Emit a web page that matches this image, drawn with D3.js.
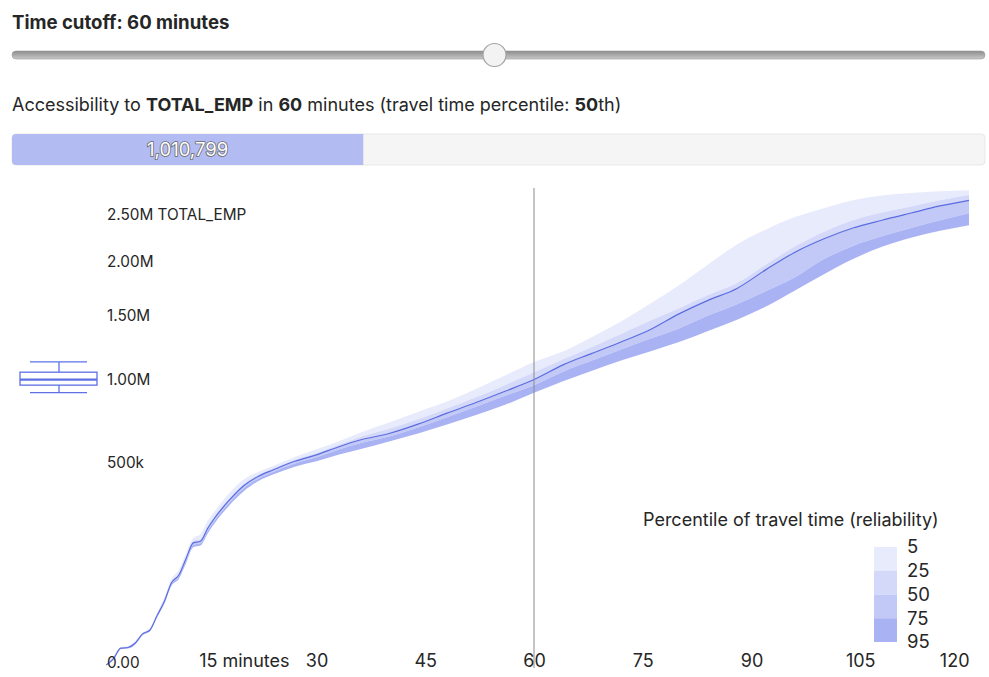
<!DOCTYPE html>
<html><head><meta charset="utf-8">
<script src="https://cdn.jsdelivr.net/npm/d3@7"></script>
<style>
html,body{margin:0;padding:0;background:#fff;}
svg text{font-family:Inter,"Noto Sans",sans-serif;}
</style></head>
<body><svg id="c" width="989" height="677"></svg>
<script>
// ---------- data (jobs, thousands) ----------
const minutes = [1,2,3,4,5,6,7,8,9,10,11,12,13,14,15,16,18,20,22,24,27,30,33,36,40,44,48,52,56,60,64,68,72,76,80,84,88,92,96,100,104,108,112,116,120];
const p5k  = [0,1,4,4.5,7,13,17,33,56,92,112,155,200,212,258,295,368,428,464,492,537,578,620,670,730,795,862,945,1040,1140,1220,1335,1465,1620,1790,1990,2195,2355,2490,2590,2680,2735,2765,2785,2797];
const p25k = [0,0.6,3.6,4,6.4,12.4,15.8,31,52,87,104,145,191,197,240,278,346,408,450,480,523,558,600,645,692,750,816,890,972,1064,1160,1255,1360,1470,1580,1700,1810,1990,2175,2330,2455,2540,2610,2680,2740];
const p50k = [0,0.5,3.5,3.8,6,12,15,30,50,84,100,140,185,190,232,270,338,400,442,472,515,548,590,628,665,720,787,855,930,1011,1118,1205,1295,1395,1530,1650,1760,1940,2115,2255,2370,2455,2535,2615,2680];
const p75k = [0,0.4,3.4,3.6,5.6,11.6,14.5,29,48,81,96,134,179,184,224,261,328,389,432,462,504,536,575,610,648,700,762,828,900,972,1068,1150,1235,1320,1405,1515,1615,1735,1865,2045,2180,2280,2370,2455,2533];
const p95k = [0,0.3,3.2,3.4,5.2,11,14,28,46,78,92,128,172,177,215,251,317,376,420,450,488,515,548,578,620,665,718,775,840,920,1000,1075,1150,1220,1295,1385,1480,1595,1740,1895,2045,2170,2265,2340,2400];
const percentiles = [5,25,50,75,95];
const bandColors = ["#e8ebfc","#d4d9fa","#c2c9f7","#a9b3f4"];
const cutoff = 60;
const accessValue = 1010799;
const maxValue = 2800000;
const yTicks = [0,500000,1000000,1500000,2000000,2500000];
const yTickLabels = ["0.00","500k","1.00M","1.50M","2.00M","2.50M TOTAL_EMP"];
const xTicks = [15,30,45,60,75,90,105,120];
const opportunity = "TOTAL_EMP";

// ---------- setup ----------
const svg = d3.select("#c");
const series = [p5k,p25k,p50k,p75k,p95k].map(a => a.map(v => v*1000));
const rows = minutes.map((m,i) => ({m, v: series.map(s => s[i])}));
const x = d3.scaleLinear().domain([0,120]).range([99,969]);
const y = d3.scaleSqrt().domain([0,maxValue]).range([665,190]);
const lineColor = "#5b6ce0";
const textColor = "#262626";

// ---------- header ----------
svg.append("text").attr("x",12).attr("y",22).attr("dy","0.35em")
  .attr("font-size",18.6).attr("font-weight",700).attr("fill",textColor)
  .text(`Time cutoff: ${cutoff} minutes`);

const defs = svg.append("defs");
const g1 = defs.append("linearGradient").attr("id","trk").attr("x1",0).attr("x2",0).attr("y1",0).attr("y2",1);
g1.append("stop").attr("offset","0%").attr("stop-color","#8c8c8c");
g1.append("stop").attr("offset","100%").attr("stop-color","#c9c9c9");
const slider = d3.scaleLinear().domain([1,120]).range([23.5,973.5]);
svg.append("rect").attr("x",12).attr("y",51).attr("width",973).attr("height",8).attr("rx",4)
  .attr("fill","url(#trk)").attr("stroke","#9a9a9a").attr("stroke-width",0.6);
svg.append("circle").attr("cx",slider(cutoff)).attr("cy",55).attr("r",11.5)
  .attr("fill","#f3f3f3").attr("stroke","#a3a3a3").attr("stroke-width",1.2);

const acc = svg.append("text").attr("x",12).attr("y",105).attr("dy","0.35em")
  .attr("font-size",18).attr("fill",textColor);
acc.append("tspan").text("Accessibility to ");
acc.append("tspan").attr("font-weight",700).text(opportunity);
acc.append("tspan").text(" in ");
acc.append("tspan").attr("font-weight",700).text(cutoff);
acc.append("tspan").text(" minutes (travel time percentile: ");
acc.append("tspan").attr("font-weight",700).text(percentiles[2]);
acc.append("tspan").text("th)");

// progress bar
const bar = d3.scaleLinear().domain([0,maxValue]).range([0,973]);
defs.append("clipPath").attr("id","barclip").append("rect")
  .attr("x",12).attr("y",134).attr("width",973).attr("height",31).attr("rx",4);
svg.append("rect").attr("x",12).attr("y",134).attr("width",973).attr("height",31).attr("rx",4)
  .attr("fill","#f5f5f5").attr("stroke","#e8e8e8");
svg.append("rect").attr("clip-path","url(#barclip)").attr("x",12).attr("y",134)
  .attr("width",bar(accessValue)).attr("height",31).attr("fill","#b3bbf3");
svg.append("text").attr("x",12+bar(accessValue)/2).attr("y",150).attr("dy","0.35em")
  .attr("text-anchor","middle").attr("font-size",18.5).attr("fill","#ffffff")
  .attr("stroke","#6a6a6a").attr("stroke-width",1.6).attr("paint-order","stroke")
  .text(d3.format(",")(accessValue));

// ---------- bands ----------
const plot = svg.append("g");
for (let b=0;b<4;b++){
  const area = d3.area().x(d=>x(d.m)).y0(d=>y(d.v[b+1])).y1(d=>y(d.v[b])).curve(d3.curveMonotoneX);
  plot.append("path").datum(rows).attr("d",area).attr("fill",bandColors[b]);
}
plot.append("path").datum(rows)
  .attr("d", d3.line().x(d=>x(d.m)).y(d=>y(d.v[2])).curve(d3.curveMonotoneX))
  .attr("fill","none").attr("stroke",lineColor).attr("stroke-width",1.2);

// cutoff line
svg.append("line").attr("x1",x(cutoff)).attr("x2",x(cutoff)).attr("y1",188).attr("y2",668)
  .attr("stroke","#8a8a8a").attr("stroke-width",1);

// ---------- axes ----------
const ya = svg.append("g").attr("transform","translate(107,-2)")
  .call(d3.axisRight(y).tickValues(yTicks).tickSize(0).tickPadding(0).tickFormat((d,i)=>yTickLabels[i]));
ya.select(".domain").remove();
ya.selectAll("text").attr("font-size",15.3).attr("fill",textColor).attr("font-family",null);

const xa = svg.append("g").attr("transform","translate(0,654)")
  .call(d3.axisBottom(x).tickValues(xTicks).tickSize(0).tickPadding(0));
xa.select(".domain").remove();
xa.selectAll("text").attr("font-size",18).attr("fill",textColor).attr("font-family",null);
xa.selectAll(".tick").filter(d=>d===15).select("text").each(function(){
  const t = d3.select(this);
  const w = this.getComputedTextLength();
  t.text("15 minutes").attr("text-anchor","start").attr("x",-w/2);
});
xa.selectAll(".tick").filter(d=>d===120).select("text").attr("text-anchor","end").attr("x",0);

// ---------- box plot icon at cutoff ----------
const ci = minutes.indexOf(cutoff);
const q = series.map(s=>y(s[ci]));
const bx = svg.append("g").attr("stroke","#5d70e6").attr("stroke-width",1.3).attr("fill","none");
bx.append("line").attr("x1",30).attr("x2",87).attr("y1",q[0]).attr("y2",q[0]);
bx.append("line").attr("x1",30).attr("x2",87).attr("y1",q[4]).attr("y2",q[4]);
bx.append("line").attr("x1",59).attr("x2",59).attr("y1",q[0]).attr("y2",q[1]);
bx.append("line").attr("x1",59).attr("x2",59).attr("y1",q[3]).attr("y2",q[4]);
bx.append("rect").attr("x",20).attr("width",77).attr("y",q[1]).attr("height",q[3]-q[1]);
bx.append("line").attr("x1",20).attr("x2",97).attr("y1",q[2]).attr("y2",q[2]).attr("stroke-width",2.2);

// ---------- legend ----------
const lg = svg.append("g");
lg.append("text").attr("x",643).attr("y",520).attr("dy","0.35em").attr("font-size",18)
  .attr("fill",textColor).text("Percentile of travel time (reliability)");
const ls = d3.scaleLinear().domain([0,4]).range([547,642]);
bandColors.forEach((c,i)=>{
  lg.append("rect").attr("x",874).attr("y",ls(i)).attr("width",23).attr("height",ls(i+1)-ls(i)).attr("fill",c);
});
percentiles.forEach((p,i)=>{
  lg.append("text").attr("x",907).attr("y",ls(i)).attr("dy","0.35em").attr("font-size",18.5)
    .attr("fill",textColor).text(p);
});
</script></body></html>
